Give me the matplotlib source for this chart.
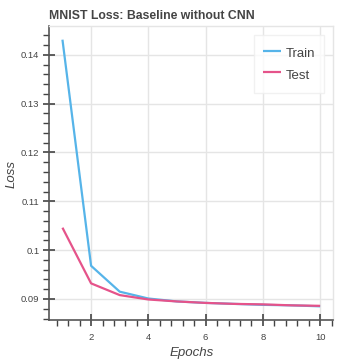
import matplotlib
matplotlib.use("Agg")
import matplotlib.pyplot as plt
from matplotlib.ticker import MultipleLocator, FixedLocator

epochs = [1, 2, 3, 4, 5, 6, 7, 8, 9, 10]
train_loss = [0.1431, 0.0968, 0.0915, 0.0901, 0.0895, 0.0892, 0.0890, 0.0888, 0.0887, 0.0885]
test_loss = [0.1046, 0.0932, 0.0908, 0.0899, 0.0895, 0.0892, 0.0890, 0.0889, 0.0887, 0.0886]
x_ticks = [2, 4, 6, 8, 10]
y_ticks = [0.09, 0.10, 0.11, 0.12, 0.13, 0.14]
y_tick_labels = ["0.09", "0.1", "0.11", "0.12", "0.13", "0.14"]

plt.rcParams['font.family'] = ['Liberation Sans', 'DejaVu Sans']

fig = plt.figure(figsize=(3.59, 3.59), dpi=100)
ax = fig.add_axes([49/359, 1 - 320/359, (333 - 49)/359, (320 - 26)/359])

ax.plot(epochs, train_loss, color='#56B4E9', lw=1.6, label='Train', solid_capstyle='butt')
ax.plot(epochs, test_loss, color='#E5538A', lw=1.6, label='Test', solid_capstyle='butt')

ax.set_xlim(0.53, 10.45)
ax.set_ylim(0.0857, 0.1459)

ax.xaxis.set_major_locator(FixedLocator(x_ticks))
ax.xaxis.set_minor_locator(MultipleLocator(0.4))
ax.yaxis.set_major_locator(FixedLocator(y_ticks))
ax.set_yticklabels(y_tick_labels)
ax.yaxis.set_minor_locator(MultipleLocator(0.002))

ax.grid(True, which='major', color='#e5e5e5', lw=1)
ax.set_axisbelow(True)

for s in ['top', 'right']:
    ax.spines[s].set_color('#e5e5e5')
    ax.spines[s].set_linewidth(1)
for s in ['left', 'bottom']:
    ax.spines[s].set_color('#555555')
    ax.spines[s].set_linewidth(1.2)

ax.tick_params(which='major', direction='inout', length=8, width=1.2, color='#444444',
               labelsize=6.8, labelcolor='#444444')
ax.tick_params(axis='x', which='major', pad=5)
ax.tick_params(axis='y', which='major', pad=3)
ax.tick_params(which='minor', direction='out', length=4, width=1, color='#444444')

ax.set_xlabel('Epochs', fontsize=9.5, style='italic', color='#444444')
ax.xaxis.set_label_coords((192 - 49) / 284, -(353 - 320) / 294)
ax.xaxis.label.set_va('center')
ax.set_ylabel('Loss', fontsize=9.5, style='italic', color='#444444')
ax.yaxis.set_label_coords(-(49 - 12) / 284, (320 - 174) / 294)
ax.yaxis.label.set_va('center')
ax.set_title('MNIST Loss: Baseline without CNN', fontsize=8.8, fontweight='bold',
             color='#444444', loc='left', x=0.0, pad=5)

leg = ax.legend(loc='upper right', fontsize=9.5, frameon=True, fancybox=False,
                borderpad=0.68, handlelength=1.36, handleheight=1.7,
                handletextpad=0.32, labelspacing=0.3,
                borderaxespad=0, bbox_to_anchor=(324/359, 1 - 35/359),
                bbox_transform=fig.transFigure)
leg.get_frame().set_edgecolor('#eeeeee')
leg.get_frame().set_linewidth(1)
for t in leg.get_texts():
    t.set_color('#444444')

fig.savefig('out.png', dpi=100)
